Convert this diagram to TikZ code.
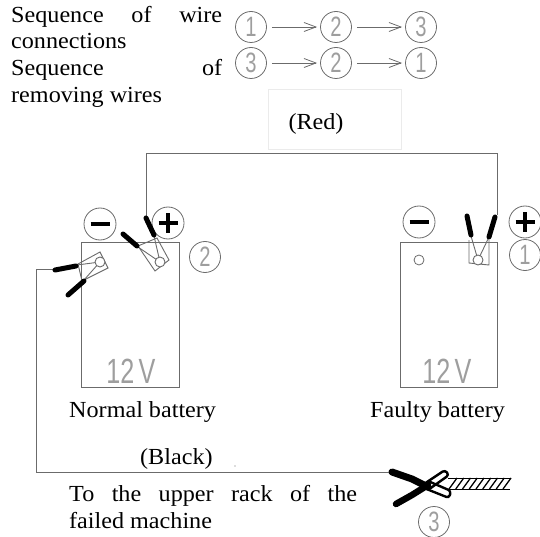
\documentclass[tikz,border=0pt]{standalone}
\usepackage{fontspec}
\usepackage{graphicx}
\setmainfont[FakeStretch=1.05]{Liberation Serif}
\newfontfamily\numfont{Liberation Sans}
\usetikzlibrary{arrows.meta}
\definecolor{ln}{gray}{0.42}
\definecolor{dg}{gray}{0.62}
\newcommand{\thin}[1]{\scalebox{0.72}[1]{#1}}
\tikzset{
  txt/.style={inner sep=0pt,anchor=base west,font=\fontsize{23}{27}\selectfont,text=black},
  num/.style={circle,draw=ln,line width=0.8pt,minimum size=31pt,inner sep=0pt,text=dg,font=\numfont\fontsize{28}{28}\selectfont},
  sign/.style={circle,draw=ln,line width=0.8pt,minimum size=32pt,inner sep=0pt},
  seq/.style={draw=ln,line width=0.8pt,-{Straight Barb[length=12pt,width=9pt,line width=0.8pt]},shorten >=3pt,shorten <=5pt},
  wire/.style={draw=ln,line width=1pt},
  grip/.style={line width=5pt,black,line cap=round},
  jaw/.style={draw=ln,line width=0.9pt},
  volt/.style={text=dg,font=\numfont\fontsize{35}{35}\selectfont,inner sep=0pt},
  batt/.style={draw=ln,line width=1pt}
}
\newcommand{\jline}[2]{\makebox[#1][s]{#2}}
\begin{document}
\begin{tikzpicture}[x=1pt,y=-1pt]
\useasboundingbox (0,0) rectangle (540,537);
% texts
\node[txt] (t1) at (11,23) {\jline{211pt}{Sequence\hfill of\hfill wire}};
\node[txt] (t2) at (11,49) {connections};
\node[txt] (t3) at (11,76) {\jline{211pt}{Sequence\hfill of}};
\node[txt] (t4) at (11,103) {removing wires};
% order rows
\node[num] (a1) at (251,27) {\thin{1}};
\node[num] (a2) at (336,27) {\thin{2}};
\node[num] (a3) at (421,27) {\thin{3}};
\node[num] (b1) at (251,63) {\thin{3}};
\node[num] (b2) at (336,63) {\thin{2}};
\node[num] (b3) at (421,63) {\thin{1}};
\draw[seq] (a1) -- (a2);
\draw[seq] (a2) -- (a3);
\draw[seq] (b1) -- (b2);
\draw[seq] (b2) -- (b3);
% red label
\node[draw=black!8,line width=1pt,minimum width=133pt,minimum height=60pt,inner sep=0pt] (redbox) at (334.5,120) {};
\node[txt,anchor=base] (redt) at (316,130) {(Red)};
% batteries
\node[batt,minimum width=98pt,minimum height=145pt,inner sep=0pt] (bl) at (130,314.5) {};
\node[batt,minimum width=97pt,minimum height=145pt,inner sep=0pt] (br) at (448.5,314.5) {};
\node[volt] (v1) at (131,371) {\thin{12\,V}};
\node[volt] (v2) at (447,371) {\thin{12\,V}};
\node[txt] (nb) at (69,417) {Normal battery};
\node[txt] (fb) at (370,417) {Faulty battery};
\node[txt] (blk) at (140,464) {(Black)};
\node[txt] (up) at (69,501) {\jline{288pt}{To\hfill the\hfill upper\hfill rack\hfill of\hfill the}};
\node[txt] (fm) at (69,528) {failed machine};
% terminals
\node[sign] (mL) at (100,224) {};
\node[sign] (pL) at (168,223) {};
\node[sign] (mR) at (419,222) {};
\node[sign] (pR) at (525,222) {};
\foreach \n in {mL,pL,mR,pR} \draw[black,line width=3.6pt] ([xshift=-9.5pt]\n.center) -- ([xshift=9.5pt]\n.center);
\foreach \n in {pL,pR} \draw[black,line width=3.6pt] ([yshift=-9.5pt]\n.center) -- ([yshift=9.5pt]\n.center);
\node[num] (n2) at (205,257) {\thin{2}};
\node[num] (n1) at (525,255) {\thin{1}};
\node[num] (n3) at (434,522) {\thin{3}};
% wires
\coordinate (rA) at (146,218);
\coordinate (rB) at (497,215);
\coordinate (kA) at (54,269);
\coordinate (kB) at (392,472);
\draw[wire] (rA) |- (rB |- 0,154) -- (rB);
\draw[wire] (kA) -- (36,269) |- (kB);
% left red clamp
\draw[jaw] (138,246) -- (157,238) -- (169,260) -- (155,271) -- cycle;
\draw[jaw] (138,247) -- (160,262) (154,236) -- (160,262);
\draw[jaw,fill=white] (160,262) circle (5);
\draw[grip] (146,218) -- (154,235);
\draw[grip] (123,234) -- (137,246);
% left black clamp
\draw[jaw] (78,264) -- (100,252) -- (108,268) -- (82,281) -- cycle;
\draw[jaw] (77,265) -- (100,262) (84,280) -- (100,262);
\draw[jaw,fill=white] (100,262) circle (5);
\draw[grip] (55,270) -- (76,266);
\draw[grip] (68,295) -- (84,281);
% right clamp
\draw[jaw] (469,240) -- (469,263) -- (489,265) -- (489,240);
\draw[jaw] (471,236) -- (478,260) (489,237) -- (478,260);
\draw[jaw,fill=white] (478,260) circle (5);
\draw[grip] (467,216) -- (471,235);
\draw[grip] (495,217) -- (489,237);
\node[draw=ln,circle,line width=0.8pt,minimum size=10pt,inner sep=0pt] (post) at (419,260) {};
% ground clamp
\draw[draw=black,line width=2.4pt,rounded corners=3pt] (424,484) -- (445,470) -- (449,475) -- (428,490) -- cycle;
\draw[draw=black,line width=2.4pt,rounded corners=3pt] (424,488) -- (449,498)  -- (451,491) -- (428,481) -- cycle;
\draw[black,line width=7pt,line cap=round] (392,472) -- (412,479) -- (428,487);
\draw[black,line width=6.5pt,line cap=round] (396,504) -- (412,495) -- (428,485);
% hatch
\coordinate (h1) at (448,478);
\coordinate (h2) at (511,478);
\coordinate (h3) at (510,489);
\coordinate (h4) at (448,489);
\draw[black,line width=1pt] (h1) -- (h2) (h4) -- (h3);
\foreach \x in {0,...,8} \draw[black,line width=1.3pt] (449+6.75*\x,489) -- (457+6.75*\x,478);
\node[fill=ln,circle,inner sep=0pt,minimum size=1.2pt] (dot) at (235,466) {};
\end{tikzpicture}
\end{document}
